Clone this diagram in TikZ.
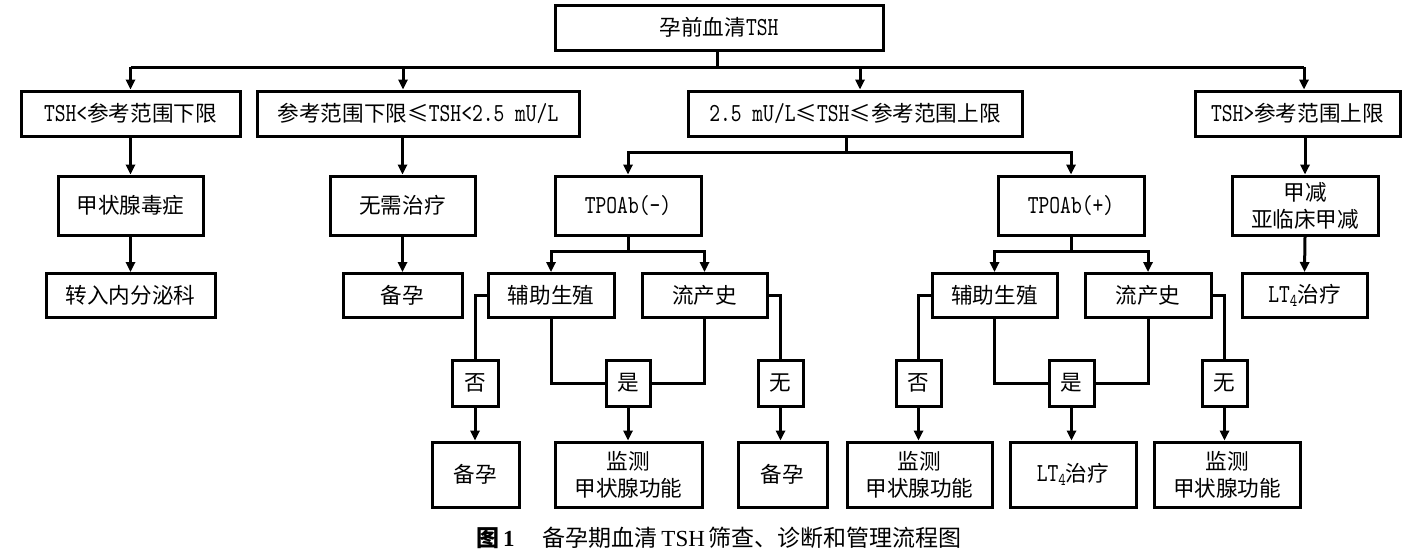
\documentclass[tikz,border=0pt]{standalone}
\usepackage{fontspec}
\setmainfont{Noto Sans CJK SC}
\newfontfamily\latfont{lmmono10-regular.otf}[FakeStretch=0.79]
\newfontfamily\capser{Liberation Serif}
\usetikzlibrary{arrows.meta}
\newcommand\latx[1]{{\latfont\fontsize{13pt}{13.5pt}\selectfont #1}}
\newcommand\subfour{\raisebox{-2.2pt}{\latfont\fontsize{9pt}{9pt}\selectfont 4}}
\begin{document}
\begin{tikzpicture}[x=0.5pt,y=-0.5pt,
  box/.style={draw,line width=1.5pt,inner sep=0pt,align=center,
    font=\fontsize{10.8pt}{13.5pt}\selectfont},
  sz/.style 2 args={minimum width={(#1)*0.5pt},minimum height={(#2)*0.5pt}},
  ln/.style={line width=1.5pt},
  arr/.style={line width=1.5pt,-{Triangle[length=5pt,width=4.6pt]}}]
\useasboundingbox (0,0) rectangle (1423,552);
% level 1
\node[box,sz={328}{45}] (top) at (719,27.5) {孕前血清\latx{TSH}};
% level 2
\node[box,sz={219}{45}] (A) at (130.5,113.5) {\latx{TSH<}参考范围下限};
\node[box,sz={322}{45}] (B) at (418,113.5) {参考范围下限≤\latx{TSH<2.5 mU/L}};
\node[box,sz={334}{45}] (C) at (855,113.5) {\latx{2.5 mU/L}≤\latx{TSH}≤参考范围上限};
\node[box,sz={205}{45}] (D) at (1297.5,113.5) {\latx{TSH>}参考范围上限};
% level 3
\node[box,sz={145}{59}] (A3) at (130.5,205.5) {甲状腺毒症};
\node[box,sz={145}{59}] (B3) at (402.5,205.5) {无需治疗};
\node[box,sz={146}{59}] (Tn) at (628,205.5) {\latx{TPOAb(-)}};
\node[box,sz={146}{59}] (Tp) at (1071,205.5) {\latx{TPOAb(+)}};
\node[box,sz={146}{59}] (D3) at (1305,205.5) {甲减\\亚临床甲减};
% level 4
\node[box,sz={169}{44}] (A4) at (130.5,295.5) {转入内分泌科};
\node[box,sz={119}{44}] (B4) at (402.5,295.5) {备孕};
\node[box,sz={126}{44}] (FL) at (551,295.5) {辅助生殖};
\node[box,sz={125}{44}] (LL) at (704.5,295.5) {流产史};
\node[box,sz={125}{44}] (FR) at (994.5,295.5) {辅助生殖};
\node[box,sz={126}{44}] (LR) at (1148,295.5) {流产史};
\node[box,sz={125}{44}] (D4) at (1304.5,295.5) {\latx{LT}\subfour 治疗};
% level 5
\node[box,sz={46}{46}] (NoL) at (475,383) {否};
\node[box,sz={44}{46}] (YesL) at (628,383) {是};
\node[box,sz={45}{46}] (WuL) at (780.5,383) {无};
\node[box,sz={45}{46}] (NoR) at (918.5,383) {否};
\node[box,sz={45}{46}] (YesR) at (1071.5,383) {是};
\node[box,sz={45}{46}] (WuR) at (1224.5,383) {无};
% level 6
\node[box,sz={87}{65}] (BeiL) at (475.5,474.5) {备孕};
\node[box,sz={147}{65}] (JcL) at (628.5,474.5) {监测\\甲状腺功能};
\node[box,sz={89}{65}] (BeiM) at (782.5,474.5) {备孕};
\node[box,sz={145}{65}] (JcR1) at (919.5,474.5) {监测\\甲状腺功能};
\node[box,sz={126}{65}] (LtR) at (1073,474.5) {\latx{LT}\subfour 治疗};
\node[box,sz={146}{65}] (JcR2) at (1227,474.5) {监测\\甲状腺功能};
% caption
\node[inner sep=0pt,font=\fontsize{11.5pt}{13pt}\selectfont] (cap) at (719,538)
  {{\bfseries 图\,{\capser 1}}\hspace{14pt}备孕期血清\,{\capser TSH}\,筛查、诊断和管理流程图};
% connectors level 1 -> 2
\coordinate (j0) at (717,67);
\coordinate (jA) at (130.5,67);
\coordinate (jB) at (403,67);
\coordinate (jC) at (860,67);
\coordinate (jD) at (1304,67);
\draw[ln] (top.south -| j0) -- (j0);
\draw[ln] (jA) -- (jD);
\draw[arr] (jA) -- (jA |- A.north);
\draw[arr] (jB) -- (jB |- B.north);
\draw[arr] (jC) -- (jC |- C.north);
\draw[arr] (jD) -- (jD |- D.north);
% level 2 -> 3
\draw[arr] (A.south) -- (A3.north);
\draw[arr] (B3.north |- B.south) -- (B3.north);
\draw[arr] (D3.north |- D.south) -- (D3.north);
\coordinate (jC2) at (846,152);
\draw[ln] (jC2 |- C.south) -- (jC2);
\draw[arr] (jC2) -| (Tn.north);
\draw[arr] (jC2) -| (Tp.north);
% level 3 -> 4
\draw[arr] (A3.south) -- (A4.north);
\draw[arr] (B3.south) -- (B4.north);
\draw[arr] (D3.south) -- (D4.north);
\draw[ln] (Tn.south) -- ++(0,15) coordinate (jTn);
\draw[arr] (jTn) -| (FL.north);
\draw[arr] (jTn) -| (LL.north);
\draw[ln] (Tp.south) -- ++(0,15) coordinate (jTp);
\draw[arr] (jTp) -| (FR.north);
\draw[arr] (jTp) -| (LR.north);
% level 4 -> 5 (left)
\draw[ln] (FL.west) -| (NoL.north);
\draw[ln] (FL.south) |- (YesL.west);
\draw[ln] (LL.south) |- (YesL.east);
\draw[ln] (LL.east) -| (WuL.north);
% level 4 -> 5 (right)
\draw[ln] (FR.west) -| (NoR.north);
\draw[ln] (FR.south) |- (YesR.west);
\draw[ln] (LR.south) |- (YesR.east);
\draw[ln] (LR.east) -| (WuR.north);
% level 5 -> 6
\draw[arr] (NoL.south) -- (NoL.south |- BeiL.north);
\draw[arr] (YesL.south) -- (YesL.south |- JcL.north);
\draw[arr] (WuL.south) -- (WuL.south |- BeiM.north);
\draw[arr] (NoR.south) -- (NoR.south |- JcR1.north);
\draw[arr] (YesR.south) -- (YesR.south |- LtR.north);
\draw[arr] (WuR.south) -- (WuR.south |- JcR2.north);
\end{tikzpicture}
\end{document}
